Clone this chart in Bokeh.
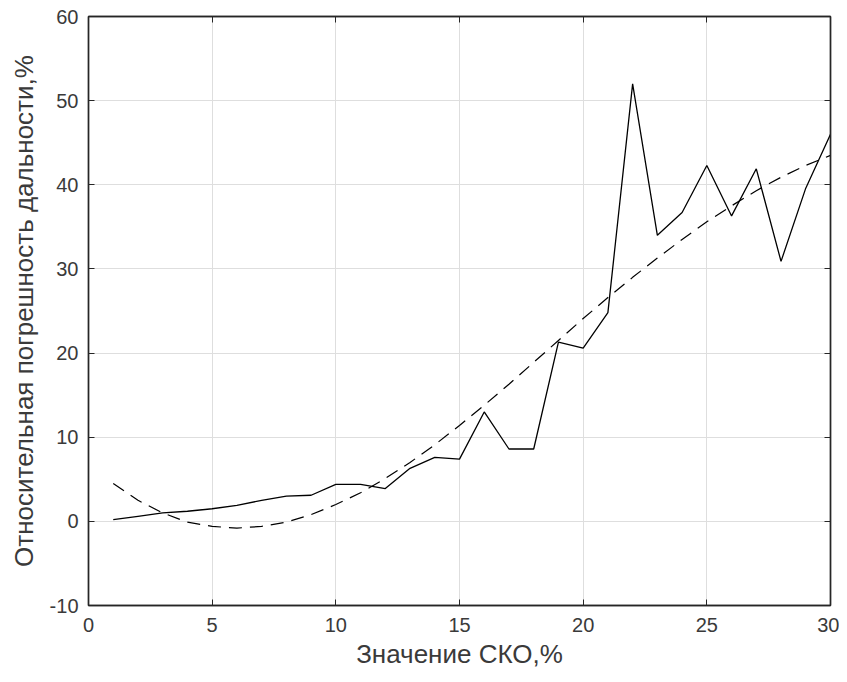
from bokeh.plotting import figure
from bokeh.models import LinearAxis, Range1d, FixedTicker, PrintfTickFormatter
from bokeh.embed import file_html
from bokeh.resources import INLINE

# data
sko = list(range(1, 31))
error_measured = [0.2, 0.6, 1.0, 1.2, 1.5, 1.9, 2.5, 3.0, 3.1, 4.4,
                  4.4, 3.9, 6.3, 7.6, 7.4, 13.0, 8.6, 8.6, 21.3, 20.6,
                  24.8, 52.0, 34.0, 36.7, 42.3, 36.3, 41.9, 30.9, 39.6, 46.0]
error_trend = [4.5, 2.5, 1.0, -0.1, -0.6, -0.8, -0.6, -0.1, 0.8, 2.0,
               3.4, 5.1, 7.0, 9.1, 11.4, 13.8, 16.3, 18.9, 21.5, 24.1,
               26.6, 29.0, 31.3, 33.5, 35.6, 37.5, 39.3, 40.9, 42.3, 43.5]
x_ticks = [0, 5, 10, 15, 20, 25, 30]
y_ticks = [-10, 0, 10, 20, 30, 40, 50, 60]
x_label = "Значение СКО,%"
y_label = "Относительная погрешность дальности,%"

FONT = "Liberation Sans"
TXT = "#3a3a3a"
EDGE = "#262626"

p = figure(width=839, height=674, output_backend="svg", toolbar_location=None,
           x_range=Range1d(0, 30), y_range=Range1d(-10, 60),
           min_border_left=88, min_border_right=9, min_border_top=16,
           min_border_bottom=69, x_axis_label=x_label, y_axis_label=y_label)

p.outline_line_color = EDGE
p.outline_line_width = 1.4
p.background_fill_color = "white"
p.border_fill_color = "white"

for ax, ticks in ((p.xaxis[0], x_ticks), (p.yaxis[0], y_ticks)):
    ax.ticker = FixedTicker(ticks=ticks)
    ax.formatter = PrintfTickFormatter(format="%d")
    ax.major_tick_in = 6
    ax.major_tick_out = 0
    ax.minor_tick_line_color = None
    ax.axis_line_color = EDGE
    ax.axis_line_width = 1.4
    ax.major_tick_line_color = EDGE
    ax.major_label_text_font = FONT
    ax.major_label_text_font_size = "20px"
    ax.major_label_text_color = TXT
    ax.axis_label_text_font = FONT
    ax.axis_label_text_font_size = "26px"
    ax.axis_label_text_font_style = "normal"
    ax.axis_label_text_color = TXT

p.xaxis.major_label_standoff = 12
p.xaxis.axis_label_standoff = 4
p.yaxis.major_label_standoff = 10
p.yaxis.axis_label_standoff = 8

# box axes (top/right) with inward ticks, no labels
for loc, ticks in (("right", y_ticks), ("above", x_ticks)):
    a = LinearAxis(ticker=FixedTicker(ticks=ticks))
    a.major_tick_in = 6
    a.major_tick_out = 0
    a.minor_tick_line_color = None
    a.major_label_text_font_size = "0px"
    a.major_label_standoff = 0
    a.axis_line_color = EDGE
    a.axis_line_width = 1.4
    a.major_tick_line_color = EDGE
    p.add_layout(a, loc)

p.xgrid.ticker = FixedTicker(ticks=x_ticks)
p.ygrid.ticker = FixedTicker(ticks=y_ticks)
p.grid.grid_line_color = "#dedede"
p.grid.grid_line_width = 1

p.line(sko, error_measured, line_color="black", line_width=1.3)
p.line(sko, error_trend, line_color="black", line_width=1.2, line_dash="13 8")

open("out.html", "w").write(file_html(p, INLINE))
